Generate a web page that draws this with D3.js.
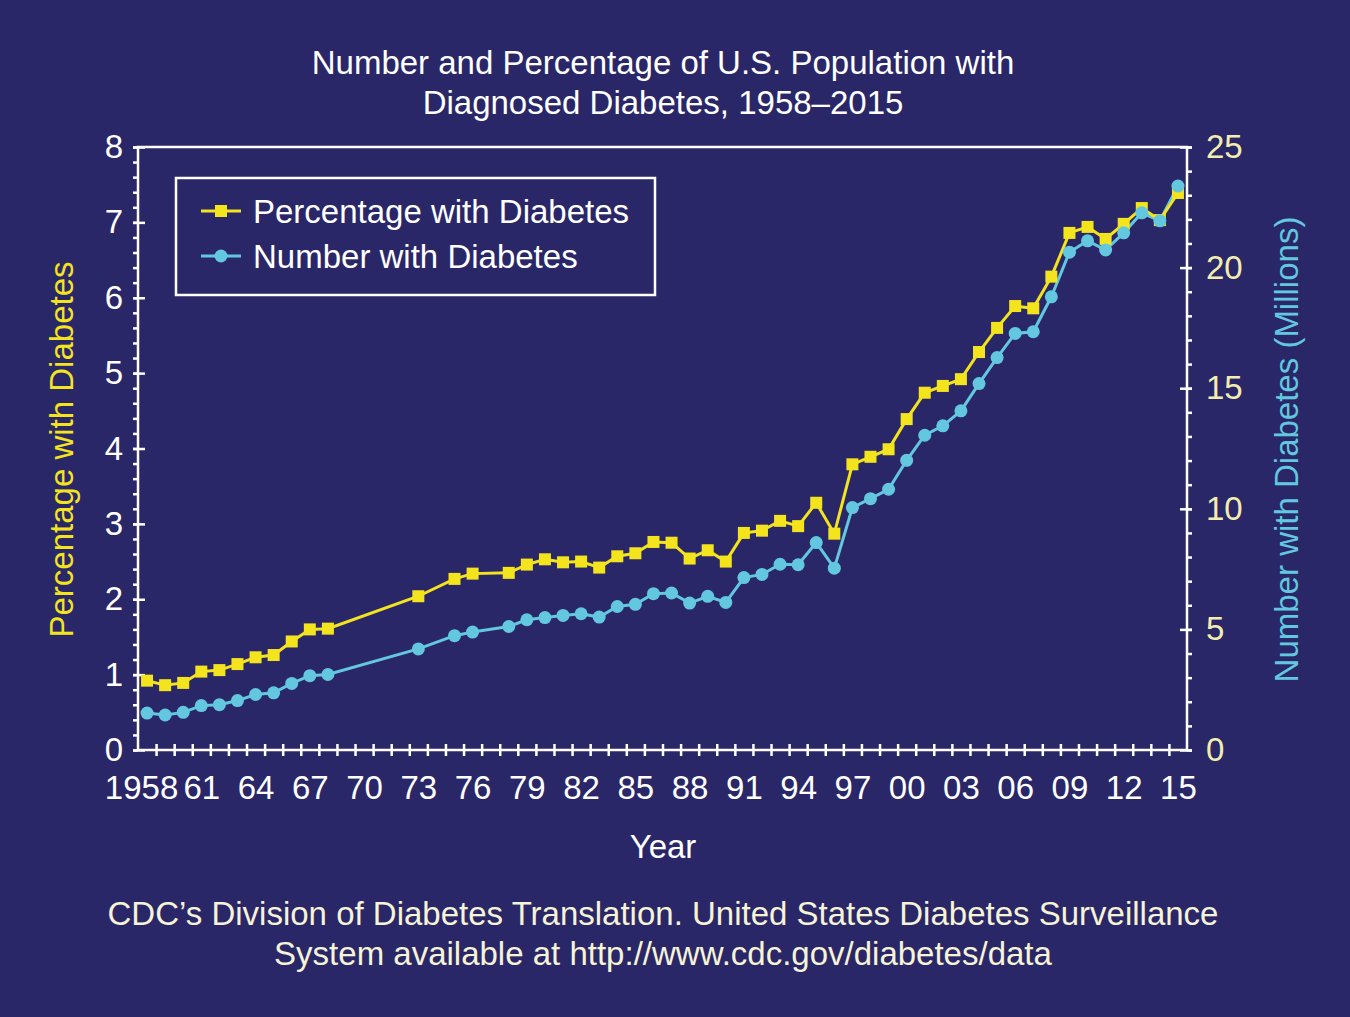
<!DOCTYPE html>
<html>
<head>
<meta charset="utf-8">
<script src="https://cdn.jsdelivr.net/npm/d3@7"></script>
<style>
  html, body { margin: 0; padding: 0; background: #2a2768; }
  svg text { font-family: "Liberation Sans", Arial, sans-serif; }
</style>
</head>
<body>
<div id="wrapper"></div>
<script>
// Data
const years = [1958, 1959, 1960, 1961, 1962, 1963, 1964, 1965, 1966, 1967, 1968,
  1973, 1975, 1976, 1978, 1979, 1980, 1981, 1982, 1983, 1984, 1985, 1986, 1987,
  1988, 1989, 1990, 1991, 1992, 1993, 1994, 1995, 1996, 1997, 1998, 1999, 2000,
  2001, 2002, 2003, 2004, 2005, 2006, 2007, 2008, 2009, 2010, 2011, 2012, 2013,
  2014, 2015];

const percentWithDiabetes = [0.92, 0.86, 0.89, 1.04, 1.06, 1.14, 1.23, 1.26, 1.44, 1.60, 1.61,
  2.04, 2.27, 2.34, 2.35, 2.46, 2.53, 2.49, 2.50, 2.42, 2.57, 2.61, 2.76, 2.75,
  2.54, 2.65, 2.50, 2.88, 2.91, 3.04, 2.97, 3.28, 2.87, 3.79, 3.89, 3.99, 4.39,
  4.74, 4.83, 4.92, 5.28, 5.60, 5.89, 5.86, 6.28, 6.86, 6.94, 6.78, 6.98, 7.19,
  7.03, 7.39];

const numberWithDiabetes = [1.53, 1.45, 1.56, 1.84, 1.88, 2.05, 2.30, 2.37, 2.76, 3.08, 3.13,
  4.19, 4.74, 4.89, 5.12, 5.40, 5.49, 5.58, 5.65, 5.51, 5.95, 6.04, 6.48, 6.51,
  6.09, 6.37, 6.12, 7.15, 7.28, 7.70, 7.68, 8.60, 7.54, 10.05, 10.42, 10.81, 12.01,
  13.05, 13.44, 14.06, 15.19, 16.27, 17.27, 17.34, 18.79, 20.64, 21.11, 20.73, 21.44, 22.27,
  21.94, 23.38];

const xTickYears = [1958, 1961, 1964, 1967, 1970, 1973, 1976, 1979, 1982, 1985, 1988,
  1991, 1994, 1997, 2000, 2003, 2006, 2009, 2012, 2015];
const xTickLabels = ["1958", "61", "64", "67", "70", "73", "76", "79", "82", "85", "88",
  "91", "94", "97", "00", "03", "06", "09", "12", "15"];

const titleLines = ["Number and Percentage of U.S. Population with",
  "Diagnosed Diabetes, 1958\u20132015"];
const sourceLines = ["CDC\u2019s Division of Diabetes Translation. United States Diabetes Surveillance",
  "System available at http://www.cdc.gov/diabetes/data"];

const colors = {
  background: "#2a2768",
  percent: "#f3e41e",
  number: "#63c7e0",
  axis: "#ffffff",
  rightTicks: "#f3eeb0",
  source: "#f6f3d6",
};

const width = 1350;
const height = 1017;
const plot = { left: 138, right: 1187, top: 147, bottom: 750 };
const fontSize = "33px";

const svg = d3.select("#wrapper")
  .append("svg")
  .attr("width", width)
  .attr("height", height);

svg.append("rect")
  .attr("width", width)
  .attr("height", height)
  .attr("fill", colors.background);

// Scales
const xScale = d3.scaleLinear()
  .domain([1957.5, 2015.5])
  .range([plot.left, plot.right]);

const yPercent = d3.scaleLinear()
  .domain([0, 8])
  .range([plot.bottom, plot.top]);

const yNumber = d3.scaleLinear()
  .domain([0, 25])
  .range([plot.bottom, plot.top]);

// Title
svg.append("g")
  .selectAll("text")
  .data(titleLines)
  .enter()
  .append("text")
  .attr("x", 663)
  .attr("y", (d, i) => 74 + i * 40)
  .attr("text-anchor", "middle")
  .attr("fill", "#ffffff")
  .style("font-size", fontSize)
  .text((d) => d);

// Axes
const axisColor = (g) => {
  g.select(".domain").remove();
  g.selectAll("line").attr("stroke", colors.axis).attr("stroke-width", 2.5);
};

// left axis: minor ticks outward, major ticks cross the axis
const leftMinor = svg.append("g")
  .attr("transform", `translate(${plot.left},0)`)
  .call(d3.axisLeft(yPercent).tickValues(d3.range(0, 8.01, 0.2)).tickSize(5).tickFormat(""))
  .call(axisColor);

const leftMajor = svg.append("g")
  .attr("transform", `translate(${plot.left + 7},0)`)
  .call(d3.axisLeft(yPercent).ticks(8).tickSize(12).tickPadding(3).tickFormat(d3.format("d")))
  .call(axisColor);
leftMajor.selectAll("text")
  .attr("fill", "#ffffff")
  .attr("x", -22)
  .style("font-size", fontSize);

// right axis
const rightMinor = svg.append("g")
  .attr("transform", `translate(${plot.right},0)`)
  .call(d3.axisRight(yNumber).tickValues(d3.range(0, 25.01, 1)).tickSize(5).tickFormat(""))
  .call(axisColor);

const rightMajor = svg.append("g")
  .attr("transform", `translate(${plot.right - 7},0)`)
  .call(d3.axisRight(yNumber).tickValues([0, 5, 10, 15, 20, 25]).tickSize(12).tickFormat(d3.format("d")))
  .call(axisColor);
rightMajor.selectAll("text")
  .attr("fill", colors.rightTicks)
  .attr("x", 26)
  .style("font-size", fontSize);

// bottom axis: a tick at every year boundary, crossing the axis
const bottomTicks = svg.append("g")
  .attr("transform", `translate(0,${plot.bottom + 6})`)
  .call(d3.axisBottom(xScale).tickValues(d3.range(1958.5, 2015, 1)).tickSize(-12).tickFormat(""))
  .call(axisColor);

const bottomLabels = svg.append("g")
  .attr("transform", `translate(0,${plot.bottom})`)
  .call(d3.axisBottom(xScale).tickValues(xTickYears).tickSize(0).tickPadding(26)
    .tickFormat((d, i) => xTickLabels[i]));
bottomLabels.select(".domain").remove();
bottomLabels.selectAll("text")
  .attr("fill", "#ffffff")
  .style("font-size", fontSize);
bottomLabels.selectAll("text").filter((d) => d === 1958).attr("dx", -6);

// frame lines
const frame = svg.append("g")
  .attr("stroke", colors.axis)
  .attr("stroke-width", 2.5)
  .attr("fill", "none");
frame.append("path")
  .attr("d", `M${plot.left},${plot.bottom}V${plot.top}H${plot.right}V${plot.bottom}Z`);

// Axis titles
svg.append("text")
  .attr("transform", `translate(73,${(plot.top + plot.bottom) / 2 + 1}) rotate(-90)`)
  .attr("text-anchor", "middle")
  .attr("fill", colors.percent)
  .style("font-size", fontSize)
  .text("Percentage with Diabetes");

svg.append("text")
  .attr("transform", `translate(1298,${(plot.top + plot.bottom) / 2 + 1}) rotate(-90)`)
  .attr("text-anchor", "middle")
  .attr("fill", colors.number)
  .style("font-size", fontSize)
  .text("Number with Diabetes (Millions)");

svg.append("text")
  .attr("x", 663)
  .attr("y", 858)
  .attr("text-anchor", "middle")
  .attr("fill", "#ffffff")
  .style("font-size", fontSize)
  .text("Year");

// Source note
svg.append("g")
  .selectAll("text")
  .data(sourceLines)
  .enter()
  .append("text")
  .attr("x", 663)
  .attr("y", (d, i) => 925 + i * 40)
  .attr("text-anchor", "middle")
  .attr("fill", colors.source)
  .style("font-size", fontSize)
  .text((d) => d);

// Lines and markers
const numberLine = d3.line()
  .x((d, i) => xScale(years[i]))
  .y((d) => yNumber(d));

const percentLine = d3.line()
  .x((d, i) => xScale(years[i]))
  .y((d) => yPercent(d));

svg.append("path")
  .attr("d", numberLine(numberWithDiabetes))
  .attr("fill", "none")
  .attr("stroke", colors.number)
  .attr("stroke-width", 3);

svg.append("path")
  .attr("d", percentLine(percentWithDiabetes))
  .attr("fill", "none")
  .attr("stroke", colors.percent)
  .attr("stroke-width", 3);

const squareSize = 12;
svg.append("g")
  .selectAll("rect")
  .data(percentWithDiabetes)
  .enter()
  .append("rect")
  .attr("x", (d, i) => xScale(years[i]) - squareSize / 2)
  .attr("y", (d) => yPercent(d) - squareSize / 2)
  .attr("width", squareSize)
  .attr("height", squareSize)
  .attr("fill", colors.percent);

svg.append("g")
  .selectAll("circle")
  .data(numberWithDiabetes)
  .enter()
  .append("circle")
  .attr("cx", (d, i) => xScale(years[i]))
  .attr("cy", (d) => yNumber(d))
  .attr("r", 6.5)
  .attr("fill", colors.number);

// Legend
const legend = svg.append("g").attr("transform", "translate(176,178)");
legend.append("rect")
  .attr("width", 479)
  .attr("height", 117)
  .attr("fill", colors.background)
  .attr("stroke", "#ffffff")
  .attr("stroke-width", 2.5);

const legendItems = [
  { label: "Percentage with Diabetes", color: colors.percent, shape: "square" },
  { label: "Number with Diabetes", color: colors.number, shape: "circle" },
];

const legendRow = legend.selectAll(".legend-row")
  .data(legendItems)
  .enter()
  .append("g")
  .attr("class", "legend-row")
  .attr("transform", (d, i) => `translate(0,${33 + i * 45})`);

legendRow.append("line")
  .attr("x1", 25)
  .attr("x2", 65)
  .attr("stroke", (d) => d.color)
  .attr("stroke-width", 3);

legendRow.filter((d) => d.shape === "square")
  .append("rect")
  .attr("x", 45 - 6)
  .attr("y", -6)
  .attr("width", 12)
  .attr("height", 12)
  .attr("fill", (d) => d.color);

legendRow.filter((d) => d.shape === "circle")
  .append("circle")
  .attr("cx", 45)
  .attr("r", 6.5)
  .attr("fill", (d) => d.color);

legendRow.append("text")
  .attr("x", 77)
  .attr("y", 12)
  .attr("fill", "#ffffff")
  .style("font-size", fontSize)
  .text((d) => d.label);
</script>
</body>
</html>
